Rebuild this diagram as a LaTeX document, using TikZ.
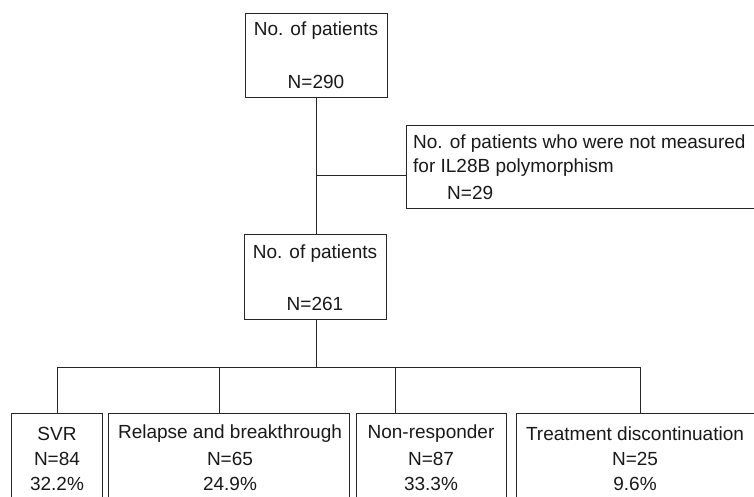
\documentclass[tikz,border=0pt]{standalone}
\usepackage{fontspec}
\setmainfont{Liberation Sans}
\begin{document}
\begin{tikzpicture}[x=1pt,y=-1pt,
  box/.style={draw=black!85, line width=0.9pt, rectangle, inner sep=0pt, anchor=north west},
  txt/.style={inner sep=0pt, font=\fontsize{19}{23}\selectfont, text=black!90},
  ln/.style={draw=black!85, line width=0.9pt}]
\useasboundingbox (0,0) rectangle (754,496);
\clip (0,0) rectangle (754,496);
% boxes
\node[box, minimum width=142pt, minimum height=84pt] (top) at (245,13) {};
\node[box, minimum width=142pt, minimum height=85pt] (mid) at (244,234) {};
\node[box, minimum width=360pt, minimum height=83pt] (side) at (406,125) {};
\node[box, minimum width=91pt, minimum height=100pt] (svr) at (11,413) {};
\node[box, minimum width=241pt, minimum height=100pt] (rel) at (108,413) {};
\node[box, minimum width=150pt, minimum height=100pt] (non) at (356,413) {};
\node[box, minimum width=250pt, minimum height=100pt] (trt) at (516,413) {};
% texts
\node[txt] (topa) at (316,31) {No. of patients};
\node[txt] (topb) at (316,82) {N=290};
\node[txt] (mida) at (315,254) {No. of patients};
\node[txt] (midb) at (315,304) {N=261};
\node[txt, anchor=west] (sidea) at (413,144) {No. of patients who were not measured};
\node[txt, anchor=west] (sideb) at (413,168) {for IL28B polymorphism};
\node[txt, anchor=west] (sidec) at (447,193) {N=29};
\node[txt] (svra) at (57,434) {SVR};
\node[txt] (svrb) at (57,459) {N=84};
\node[txt] (svrc) at (57,484) {32.2\%};
\node[txt] (rela) at (230,434) {Relapse and breakthrough};
\node[txt] (relb) at (230,459) {N=65};
\node[txt] (relc) at (230,484) {24.9\%};
\node[txt] (nona) at (431,434) {Non-responder};
\node[txt] (nonb) at (431,459) {N=87};
\node[txt] (nonc) at (431,484) {33.3\%};
\node[txt] (trta) at (635,434) {Treatment discontinuation};
\node[txt] (trtb) at (635,459) {N=25};
\node[txt] (trtc) at (635,484) {9.6\%};
% connectors
\coordinate (br) at (316,175);
\coordinate (bus) at (316,367);
\coordinate (b1) at (57,367);
\coordinate (b2) at (219,367);
\coordinate (b3) at (395,367);
\coordinate (b4) at (640,367);
\draw[ln] (top.south -| br) -- (mid.north -| br);
\draw[ln] (br) -- (side.west |- br);
\draw[ln] (mid.south -| bus) -- (bus);
\draw[ln] (b1) -- (b4);
\draw[ln] (b1) -- (b1 |- svr.north);
\draw[ln] (b2) -- (b2 |- rel.north);
\draw[ln] (b3) -- (b3 |- non.north);
\draw[ln] (b4) -- (b4 |- trt.north);
\end{tikzpicture}
\end{document}
